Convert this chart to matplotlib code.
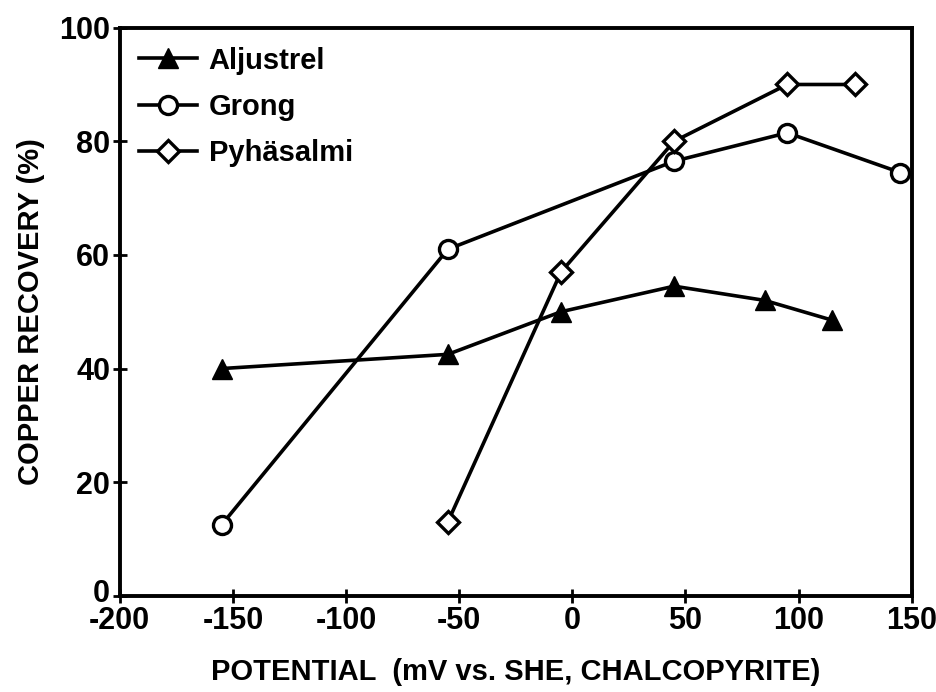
import numpy as np
import matplotlib.pyplot as plt
from matplotlib.transforms import ScaledTranslation

plt.rcParams['font.family'] = ['Liberation Sans', 'DejaVu Sans']
plt.rcParams['font.weight'] = 'bold'
plt.rcParams['axes.unicode_minus'] = False

alj_x = [-155, -55, -5, 45, 85, 115]
alj_y = [40, 42.5, 50, 54.5, 52, 48.5]
gro_x = [-155, -55, 45, 95, 145]
gro_y = [12.5, 61, 76.5, 81.5, 74.5]
pyh_x = [-55, -5, 45, 95, 125]
pyh_y = [13, 57, 80, 90, 90]

xticks = [-200, -150, -100, -50, 0, 50, 100, 150]
yticks = [0, 20, 40, 60, 80, 100]


def main():
    fig = plt.figure(figsize=(9.36, 6.92), dpi=100)
    ax = fig.add_axes([0.128, 0.139, 0.846, 0.821])
    ax.plot(alj_x, alj_y, color='black', lw=2.6, marker='^', ms=14,
            mfc='black', mec='black', label='Aljustrel')
    ax.plot(gro_x, gro_y, color='black', lw=2.6, marker='o', ms=13,
            mfc='white', mec='black', mew=2.4, label='Grong')
    ax.plot(pyh_x, pyh_y, color='black', lw=2.6, marker='D', ms=11,
            mfc='white', mec='black', mew=2.4, label='Pyhäsalmi')
    ax.set_xlim(-200, 150)
    ax.set_ylim(0, 100)
    ax.set_xticks(xticks)
    ax.set_yticks(yticks)
    ax.tick_params(direction='inout', length=10, width=2, labelsize=22, pad=2)
    for s in ax.spines.values():
        s.set_linewidth(2.8)
    # lift the "0" on the y axis a little, as in the original
    lab0 = ax.get_yticklabels()[0]
    lab0.set_transform(lab0.get_transform() + ScaledTranslation(0, 4 / 72, fig.dpi_scale_trans))
    ax.set_xlabel('POTENTIAL  (mV vs. SHE, CHALCOPYRITE)', fontsize=21,
                  fontweight='bold', labelpad=16)
    ax.set_ylabel('COPPER RECOVERY (%)', fontsize=21, fontweight='bold',
                  labelpad=10)
    ax.legend(loc='upper left', frameon=False, prop={'size': 21, 'weight': 'bold'},
              handlelength=2.0, handletextpad=0.4, labelspacing=0.62,
              borderaxespad=0.25)
    fig.savefig('out.png', dpi=100)


if __name__ == "__main__":
    main()
